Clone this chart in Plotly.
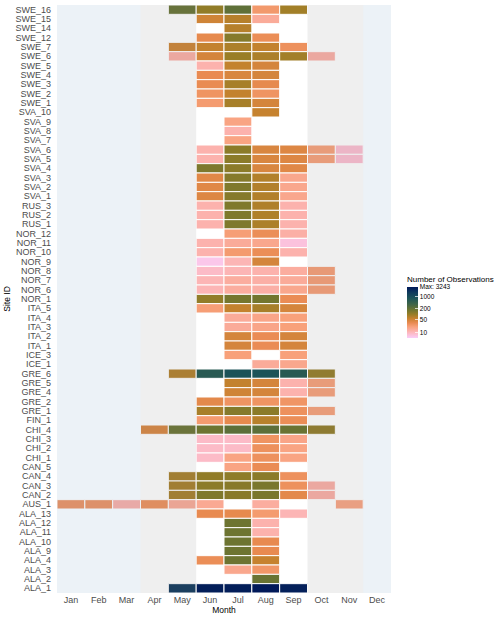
import numpy as np
import plotly.graph_objects as go

N = None

# Site IDs, top to bottom
sites = ["SWE_16", "SWE_15", "SWE_14", "SWE_12", "SWE_7", "SWE_6", "SWE_5", "SWE_4", "SWE_3", "SWE_2", "SWE_1",
         "SVA_10", "SVA_9", "SVA_8", "SVA_7", "SVA_6", "SVA_5", "SVA_4", "SVA_3", "SVA_2", "SVA_1",
         "RUS_3", "RUS_2", "RUS_1",
         "NOR_12", "NOR_11", "NOR_10", "NOR_9", "NOR_8", "NOR_7", "NOR_6", "NOR_1",
         "ITA_5", "ITA_4", "ITA_3", "ITA_2", "ITA_1",
         "ICE_3", "ICE_1",
         "GRE_6", "GRE_5", "GRE_4", "GRE_2", "GRE_1",
         "FIN_1",
         "CHI_4", "CHI_3", "CHI_2", "CHI_1",
         "CAN_5", "CAN_4", "CAN_3", "CAN_2",
         "AUS_1",
         "ALA_13", "ALA_12", "ALA_11", "ALA_10", "ALA_9", "ALA_4", "ALA_3", "ALA_2", "ALA_1"]

months = ["Jan", "Feb", "Mar", "Apr", "May", "Jun", "Jul", "Aug", "Sep", "Oct", "Nov", "Dec"]

# Number of observations per site (order as `sites`) for each month
jan = [N, N, N, N, N, N, N, N, N, N, N,
       N, N, N, N, N, N, N, N, N, N,
       N, N, N,
       N, N, N, N, N, N, N, N,
       N, N, N, N, N,
       N, N,
       N, N, N, N, N,
       N,
       N, N, N, N,
       N, N, N, N,
       28,
       N, N, N, N, N, N, N, N, N]
feb = [N, N, N, N, N, N, N, N, N, N, N,
       N, N, N, N, N, N, N, N, N, N,
       N, N, N,
       N, N, N, N, N, N, N, N,
       N, N, N, N, N,
       N, N,
       N, N, N, N, N,
       N,
       N, N, N, N,
       N, N, N, N,
       28,
       N, N, N, N, N, N, N, N, N]
mar = [N, N, N, N, N, N, N, N, N, N, N,
       N, N, N, N, N, N, N, N, N, N,
       N, N, N,
       N, N, N, N, N, N, N, N,
       N, N, N, N, N,
       N, N,
       N, N, N, N, N,
       N,
       N, N, N, N,
       N, N, N, N,
       13,
       N, N, N, N, N, N, N, N, N]
apr = [N, N, N, N, N, N, N, N, N, N, N,
       N, N, N, N, N, N, N, N, N, N,
       N, N, N,
       N, N, N, N, N, N, N, N,
       N, N, N, N, N,
       N, N,
       N, N, N, N, N,
       N,
       45, N, N, N,
       N, N, N, N,
       30,
       N, N, N, N, N, N, N, N, N]
may = [200, N, N, N, 55, 13, N, N, N, N, N,
       N, N, N, N, N, N, N, N, N, N,
       N, N, N,
       N, N, N, N, N, N, N, N,
       N, N, N, N, N,
       N, N,
       75, N, N, N, N,
       N,
       190, N, N, N,
       N, 85, 85, 85,
       15,
       N, N, N, N, N, N, N, N, 1700]
jun = [110, 52, N, 36, 62, 48, 12, 34, 34, 28, 24,
       N, N, N, N, 12, 12, 145, 40, 40, 42,
       12, 12, 12,
       N, 12, 12, 6, 9, 11, 11, 110,
       22, N, N, N, N,
       N, N,
       600, N, N, 38, 85,
       24,
       180, 9, 9, 9,
       N, 110, 120, 140,
       16,
       35, N, N, N, N, 32, N, N, 2900]
jul = [220, 72, 72, 130, 80, 100, 62, 45, 85, 62, 85,
       N, 19, 12, 19, 120, 120, 120, 130, 140, 130,
       140, 140, 140,
       22, 15, 24, 11, 11, 14, 14, 160,
       62, 15, 15, 48, 48,
       21, N,
       800, 62, 52, 28, 130,
       36,
       230, 9, 9, 19,
       19, 115, 125, 125,
       N,
       36, 180, 180, 180, 180, 180, 17, N, 2900]
aug = [25, 15, N, 32, 62, 80, 48, 48, 36, 28, 48,
       60, N, N, N, 45, 45, 45, 75, 75, 75,
       78, 78, 80,
       32, 17, 32, 48, 12, 13, 13, 165,
       85, 18, 18, 33, 33,
       N, 15,
       800, 48, 48, 28, 120,
       70,
       230, 28, 30, 30,
       33, 120, 150, 150,
       14,
       24, 12, 12, 35, 35, 60, 26, 190, 3243]
sep = [90, N, N, N, 30, 90, N, N, N, N, N,
       N, N, N, N, 42, 42, 40, 17, 17, 17,
       12, 12, 12,
       13, 7, 12, N, 14, 15, 17, 33,
       48, 21, 21, 48, 48,
       21, 17,
       600, 12, 12, 27, 30,
       32,
       190, 18, 19, 19,
       N, 30, 30, 38,
       N,
       11, N, N, N, N, N, N, N, 2800]
oct_ = [N, N, N, N, N, 13, N, N, N, N, N,
        N, N, N, N, 21, 21, N, N, N, N,
        N, N, N,
        N, N, N, N, 22, 22, 22, N,
        N, N, N, N, N,
        N, N,
        105, 21, 21, N, 21,
        N,
        110, N, N, N,
        N, N, 13, 13,
        N,
        N, N, N, N, N, N, N, N, N]
nov = [N, N, N, N, N, N, N, N, N, N, N,
       N, N, N, N, 8, 8, N, N, N, N,
       N, N, N,
       N, N, N, N, N, N, N, N,
       N, N, N, N, N,
       N, N,
       N, N, N, N, N,
       N,
       N, N, N, N,
       N, N, N, N,
       19,
       N, N, N, N, N, N, N, N, N]
dec = [N] * len(sites)

month_cols = [jan, feb, mar, apr, may, jun, jul, aug, sep, oct_, nov, dec]
for c in month_cols:
    assert len(c) == len(sites)

# Season shading
winter_months = ["Jan", "Feb", "Mar", "Dec"]
shoulder_months = ["Apr", "May", "Oct", "Nov"]

legend_ticks = [10, 50, 200, 1000]
max_obs = 3243
min_obs = 5

# ---- build long data ----
tile_site, tile_base, tile_val = [], [], []
for mi, col in enumerate(month_cols):
    for si, v in enumerate(col):
        if v is not None:
            tile_site.append(sites[si])
            tile_base.append(mi + 1 - 0.5)
            tile_val.append(np.log10(v))

colorscale = [
    [0.00, "#FACCFA"],
    [0.11, "#FDB7BC"],
    [0.22, "#F8A17B"],
    [0.30, "#E88A50"],
    [0.38, "#C8822F"],
    [0.46, "#9A7E26"],
    [0.55, "#6E7530"],
    [0.66, "#3F6548"],
    [0.78, "#1C5458"],
    [0.89, "#0F3A5C"],
    [1.00, "#011959"],
]

tickvals = [np.log10(t) for t in legend_ticks] + [np.log10(max_obs)]
ticktext = [str(t) for t in legend_ticks] + [f"Max: {max_obs}"]

fig = go.Figure()
fig.add_trace(go.Bar(
    orientation="h",
    y=tile_site,
    x=[1] * len(tile_site),
    base=tile_base,
    width=1,
    marker=dict(
        color=tile_val,
        colorscale=colorscale,
        cmin=np.log10(min_obs),
        cmax=np.log10(max_obs),
        line=dict(color="white", width=1),
        showscale=True,
        colorbar=dict(
            title=dict(text="Number of Observations", side="top",
                       font=dict(size=8, color="#000000")),
            tickvals=tickvals,
            ticktext=ticktext,
            tickfont=dict(size=6.5, color="#000000"),
            ticks="inside", ticklen=3, tickcolor="rgba(255,255,255,0.7)",
            thickness=11,
            lenmode="pixels", len=65,
            x=1.048, xanchor="left", xpad=0,
            y=0.489, yanchor="middle", ypad=0,
            outlinewidth=0,
        ),
    ),
    hoverinfo="skip",
    showlegend=False,
))

# season bands as merged runs
def runs(sel):
    idx = sorted(months.index(m) + 1 for m in sel)
    out = []
    start = prev = idx[0]
    for i in idx[1:]:
        if i == prev + 1:
            prev = i
        else:
            out.append((start, prev))
            start = prev = i
    out.append((start, prev))
    return out

for sel, color in [(winter_months, "rgba(70,130,180,0.10)"),
                   (shoulder_months, "rgba(127,127,127,0.12)")]:
    for a, b in runs(sel):
        fig.add_shape(type="rect", xref="x", yref="y domain",
                      x0=a - 0.5, x1=b + 0.5, y0=0, y1=1,
                      fillcolor=color, line=dict(width=0), layer="above")

fig.update_layout(
    width=500, height=620,
    margin=dict(l=57, r=109, t=5, b=27),
    paper_bgcolor="white", plot_bgcolor="white",
    font=dict(family="Liberation Sans, Arial, sans-serif", color="#000000"),
    barmode="overlay",
    xaxis=dict(
        range=[0.5, 12.5], tickmode="array",
        tickvals=list(range(1, 13)), ticktext=months,
        showgrid=False, zeroline=False, showline=False, ticks="",
        tickfont=dict(size=9, color="#4D4D4D"),
        title=dict(text="Month", font=dict(size=8.5, color="#000000"), standoff=2),
        fixedrange=True,
    ),
    yaxis=dict(
        type="category", categoryorder="array", categoryarray=sites,
        range=[len(sites) - 0.5, -0.5],
        tickmode="array", tickvals=sites, ticktext=sites,
        showgrid=False, zeroline=False, showline=False, ticks="",
        tickfont=dict(size=9, color="#4D4D4D"),
        ticklabelstandoff=5,
        title=dict(text="Site ID", font=dict(size=8.5, color="#000000"), standoff=3),
        fixedrange=True,
    ),
)

fig.write_html("out.html")
